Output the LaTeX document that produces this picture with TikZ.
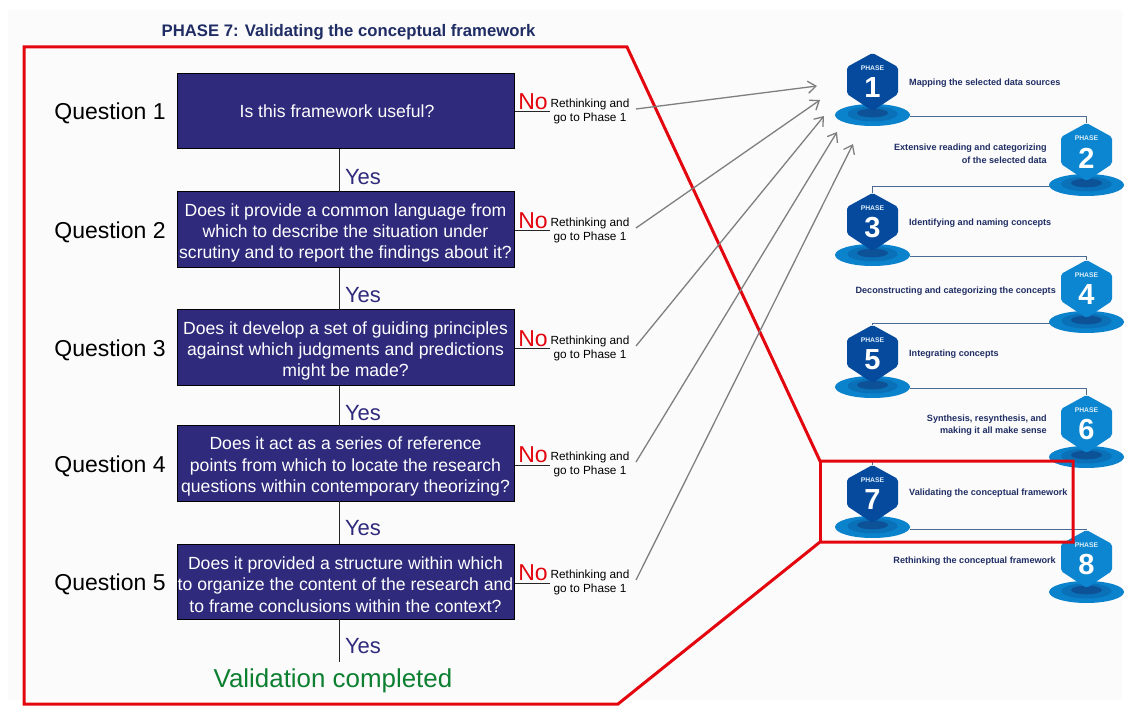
\documentclass[tikz,border=0pt]{standalone}
\usepackage{fontspec}
\setmainfont{Liberation Sans}
\usetikzlibrary{arrows.meta}
\definecolor{boxblue}{HTML}{2F2A7C}
\definecolor{navy}{HTML}{1F2D64}
\definecolor{hexdark}{HTML}{064A9E}
\definecolor{hexlight}{HTML}{0C86D0}
\definecolor{ellA}{HTML}{0A82CC}
\definecolor{ellB}{HTML}{0A71B8}
\definecolor{ellC}{HTML}{0D5196}
\definecolor{redline}{HTML}{E3060F}
\definecolor{arrowgray}{HTML}{7F7F7F}
\definecolor{linkc}{HTML}{4A6A94}
\definecolor{okgreen}{HTML}{0C8030}
\newcommand{\firstl}{\rule{0pt}{19pt}}
\tikzset{
  qbox/.style={draw=black,line width=1pt,fill=boxblue,text=white,minimum width=337pt,align=center,font=\fontsize{17.6}{21.3}\selectfont,inner sep=0pt},
  qlabel/.style={font=\fontsize{23}{26}\selectfont,text=black},
  yeslabel/.style={font=\fontsize{22}{24}\selectfont,text=boxblue},
  nolabel/.style={font=\fontsize{23}{24}\selectfont,text=redline},
  rethink/.style={align=center,font=\fontsize{11.8}{14}\selectfont,text=black,inner sep=0pt},
  flow/.style={line width=1pt,draw=black!85},
  back/.style={draw=arrowgray,line width=1.3pt,-{Straight Barb[length=8pt,width=12pt,line width=1.3pt]}},
  phasetext/.style={font=\fontsize{9.1}{12.5}\selectfont\bfseries,text=navy,inner sep=0pt},
  link/.style={draw=linkc,line width=1pt},
  redframe/.style={draw=redline,line width=3pt,line join=miter}
}
% #1 id, #2 x, #3 top y, #4 hex colour, #5 digit
\newcommand{\phasemark}[5]{%
  \fill[ellA] (#2,#3+62) ellipse [x radius=37.5,y radius=11];
  \fill[ellB] (#2,#3+61) ellipse [x radius=25,y radius=7.5];
  \fill[ellC] (#2,#3+60) ellipse [x radius=15.5,y radius=4.3];
  \fill[#4,rounded corners=2pt] (#2,#3) -- (#2+25.5,#3+14) -- (#2+25.5,#3+41) -- (#2,#3+58) -- (#2-25.5,#3+41) -- (#2-25.5,#3+14) -- cycle;
  \coordinate (top#1) at (#2,#3);
  \coordinate (ell#1L) at (#2-37,#3+64);
  \coordinate (ell#1R) at (#2+37,#3+64);
  \node[text=white!85!hexlight,font=\fontsize{6.8}{7}\selectfont\bfseries,inner sep=0pt] (plabel#1) at (#2,#3+15.5) {PHASE};
  \node[text=white,font=\fontsize{29}{30}\selectfont\bfseries,inner sep=0pt] (pnum#1) at (#2,#3+35) {#5};
}
\begin{document}
\begin{tikzpicture}[x=1pt,y=-1pt]
\useasboundingbox (0,0) rectangle (1130,708);
\fill[white] (0,0) rectangle (1130,708);
\fill[black!1.5] (8,10) rectangle (1122,700);

\node[font=\fontsize{16.7}{18}\selectfont\bfseries,text=navy,inner sep=0pt] (title) at (348.5,32.5) {PHASE 7: Validating the conceptual framework};

% question boxes
\node[qbox,minimum height=75pt] (b1) at (345.5,111.5) {\hspace*{-17pt}Is this framework useful?};
\node[qbox,minimum height=76pt] (b2) at (345.5,230) {\firstl Does it provide a common language from\\which to describe the situation under\\scrutiny and to report the findings about it?};
\node[qbox,minimum height=76pt] (b3) at (345.5,348) {\firstl Does it develop a set of guiding principles\\against which judgments and predictions\\might be made?};
\node[qbox,minimum height=75pt] (b4) at (345.5,463.5) {\firstl Does it act as a series of reference\\points from which to locate the research\\questions within contemporary theorizing?};
\node[qbox,minimum height=75pt] (b5) at (345.5,581.5) {\firstl Does it provided a structure within which\\to organize the content of the research and\\to frame conclusions within the context?};

\foreach \i/\y in {1/111,2/230,3/348,4/464,5/582}{
  \node[qlabel] (q\i) at (110,\y+2.5) {Question \i};
  \node[nolabel,inner sep=0pt] (no\i) at (533,\y-9.5) {No};
  \node[rethink] (r\i) at (590,\y+0.8) {Rethinking and\\go to Phase 1};
  \coordinate (s\i) at (636,\y-2);
  \draw[flow] (b\i.east |- 0,\y+1) -- (550,\y+1);
}
\foreach \i/\y in {1/177,2/295,3/413,4/528,5/646}{
  \node[yeslabel,inner sep=0pt] (y\i) at (363,\y) {Yes};
}
\node[font=\fontsize{25.9}{27}\selectfont,text=okgreen,inner sep=0pt] (done) at (333,680.5) {Validation completed};
\coordinate (vstart) at (339,619);
\coordinate (vend) at (339,662);
\draw[flow] (339,149) -- (339,192);
\draw[flow] (339,268) -- (339,310);
\draw[flow] (339,386) -- (339,426);
\draw[flow] (339,501) -- (339,544);
\draw[flow] (vstart) -- (vend);

% phase markers
\phasemark{1}{872.5}{53}{hexdark}{1}
\phasemark{2}{1086.5}{123}{hexlight}{2}
\phasemark{3}{872.5}{193}{hexdark}{3}
\phasemark{4}{1086.5}{260}{hexlight}{4}
\phasemark{5}{872.5}{325}{hexdark}{5}
\phasemark{6}{1086.5}{395}{hexlight}{6}
\phasemark{7}{872.5}{465}{hexdark}{7}
\phasemark{8}{1086.5}{530}{hexlight}{8}

% links
\draw[link] (ell1R) -- (ell1R -| top2) -- (top2);
\draw[link] (ell2L) -- (ell2L -| top3) -- (top3);
\draw[link] (ell3R) -- (ell3R -| top4) -- (top4);
\draw[link] (ell4L) -- (ell4L -| top5) -- (top5);
\draw[link] (ell5R) -- (ell5R -| top6) -- (top6);
\draw[link] ([yshift=-2pt]ell6L) -- ([yshift=-2pt]ell6L -| top7) -- (top7);
\draw[link] (ell7R) -- (ell7R -| top8) -- (top8);

% phase descriptions
\node[phasetext,anchor=west] (t1) at (909,83.5) {Mapping the selected data sources};
\node[phasetext,anchor=east,align=right] (t2) at (1047,154) {Extensive reading and categorizing\\of the selected data};
\node[phasetext,anchor=west] (t3) at (909,223.5) {Identifying and naming concepts};
\node[phasetext,anchor=east] (t4) at (1056,291.5) {Deconstructing and categorizing the concepts};
\node[phasetext,anchor=west] (t5) at (909,354.5) {Integrating concepts};
\node[phasetext,anchor=east,align=right] (t6) at (1047,425) {Synthesis, resynthesis, and\\making it all make sense};
\node[phasetext,anchor=west] (t7) at (909,493.5) {Validating the conceptual framework};
\node[phasetext,anchor=east] (t8) at (1056,561.5) {Rethinking the conceptual framework};

% red frame
\draw[redframe] (24,47) -- (627,47) -- (820,461) -- (1073,461) -- (1073,542) -- (820,542) -- (618,704) -- (24,704) -- cycle;
\draw[redline,line width=3pt] (820,461) -- (820,542);

% return arrows
\coordinate (e1) at (817,86);
\coordinate (e2) at (820,100);
\coordinate (e3) at (824,116);
\coordinate (e4) at (837,132);
\coordinate (e5) at (853,144);
\foreach \i in {1,...,5}{ \draw[back] (s\i) -- (e\i); }
\end{tikzpicture}
\end{document}
